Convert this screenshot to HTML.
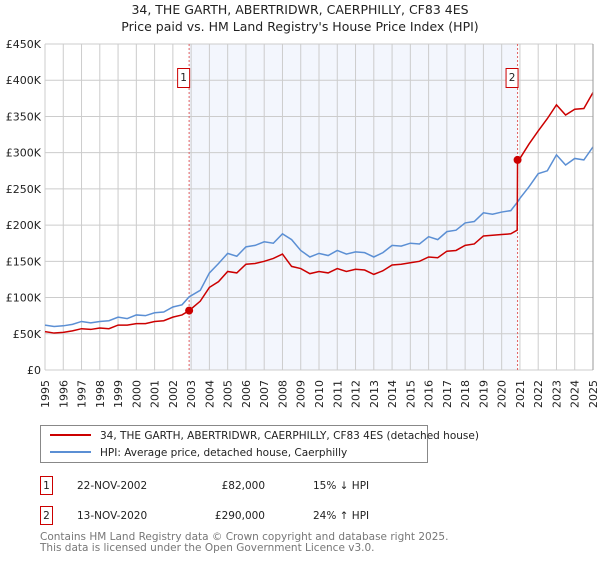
<!DOCTYPE html>
<html><head><meta charset="utf-8"><style>
body{margin:0;background:#fff;font-family:"Liberation Sans","DejaVu Sans",sans-serif;}
svg text{font-family:"DejaVu Sans","Liberation Sans",sans-serif;}
</style></head><body>
<svg id="c" width="600" height="560" xmlns="http://www.w3.org/2000/svg">
<text x="300" y="14" text-anchor="middle" font-size="12.5" fill="#222">34, THE GARTH, ABERTRIDWR, CAERPHILLY, CF83 4ES</text>
<text x="300" y="31" text-anchor="middle" font-size="12.5" fill="#222">Price paid vs. HM Land Registry's House Price Index (HPI)</text>
<g id="plot"></g>
<g>
<rect x="40.5" y="425.5" width="387" height="37" fill="#fff" stroke="#888"/>
<line x1="50" y1="435" x2="91" y2="435" stroke="#cc0000" stroke-width="2"/>
<text x="100" y="439" font-size="10.5" fill="#222">34, THE GARTH, ABERTRIDWR, CAERPHILLY, CF83 4ES (detached house)</text>
<line x1="50" y1="452" x2="91" y2="452" stroke="#5b8fd4" stroke-width="2"/>
<text x="100" y="456" font-size="10.5" fill="#222">HPI: Average price, detached house, Caerphilly</text>
</g>
<g font-size="10.5" fill="#222">
<rect x="40.5" y="476.5" width="12" height="18" fill="none" stroke="#cc0000"/>
<text x="46.5" y="489" text-anchor="middle">1</text>
<text x="77" y="489">22-NOV-2002</text><text x="265" y="489" text-anchor="end">£82,000</text><text x="313" y="489">15% ↓ HPI</text>
<rect x="40.5" y="506.5" width="12" height="18" fill="none" stroke="#cc0000"/>
<text x="46.5" y="519" text-anchor="middle">2</text>
<text x="77" y="519">13-NOV-2020</text><text x="265" y="519" text-anchor="end">£290,000</text><text x="313" y="519">24% ↑ HPI</text>
</g>
<g font-size="10.5" fill="#777">
<text x="40" y="540">Contains HM Land Registry data © Crown copyright and database right 2025.</text>
<text x="40" y="551">This data is licensed under the Open Government Licence v3.0.</text>
</g>
</svg>
<script>
const hpiYears=[1995,1995.5,1996,1996.5,1997,1997.5,1998,1998.5,1999,1999.5,2000,2000.5,2001,2001.5,2002,2002.5,2002.89,2003.5,2004,2004.5,2005,2005.5,2006,2006.5,2007,2007.5,2008,2008.5,2009,2009.5,2010,2010.5,2011,2011.5,2012,2012.5,2013,2013.5,2014,2014.5,2015,2015.5,2016,2016.5,2017,2017.5,2018,2018.5,2019,2019.5,2020,2020.5,2020.87,2021,2021.5,2022,2022.5,2023,2023.5,2024,2024.5,2025];
const hpiValues=[62,60,61,63,67,65,67,68,73,71,76,75,79,80,87,90,101,110,134,147,161,157,170,172,177,175,188,180,165,156,161,158,165,160,163,162,156,162,172,171,175,174,184,180,191,193,203,205,217,215,218,220,232,237,253,271,275,297,283,292,290,308];
const priceYears=[1995,1995.5,1996,1996.5,1997,1997.5,1998,1998.5,1999,1999.5,2000,2000.5,2001,2001.5,2002,2002.5,2002.89,2003.5,2004,2004.5,2005,2005.5,2006,2006.5,2007,2007.5,2008,2008.5,2009,2009.5,2010,2010.5,2011,2011.5,2012,2012.5,2013,2013.5,2014,2014.5,2015,2015.5,2016,2016.5,2017,2017.5,2018,2018.5,2019,2019.5,2020,2020.5,2020.85,2020.87,2021,2021.5,2022,2022.5,2023,2023.5,2024,2024.5,2025];
const priceValues=[53,51,52,54,57,56,58,57,62,62,64,64,67,68,73,76,82,95,114,122,136,134,146,147,150,154,160,143,140,133,136,134,140,136,139,138,132,137,145,146,148,150,156,155,164,165,172,174,185,186,187,188,193,290,292,312,330,347,366,352,360,361,383];
const saleYears=[2002.89,2020.87];
const saleValues=[82,290];
const saleLabels=["1","2"];
const yTicks=[0,50,100,150,200,250,300,350,400,450];
const yTickLabels=["£0","£50K","£100K","£150K","£200K","£250K","£300K","£350K","£400K","£450K"];
const xTicks=[1995,1996,1997,1998,1999,2000,2001,2002,2003,2004,2005,2006,2007,2008,2009,2010,2011,2012,2013,2014,2015,2016,2017,2018,2019,2020,2021,2022,2023,2024,2025];

const L=45,R=593,T=44,B=370,ns="http://www.w3.org/2000/svg";
const xs=v=>L+(v-1995)/30*(R-L);
const ys=v=>B-v/450*(B-T);
const g=document.getElementById('plot');
function mk(t,a,p){const e=document.createElementNS(ns,t);for(const k in a)e.setAttribute(k,a[k]);(p||g).appendChild(e);return e;}
let r=mk('rect',{x:L,y:T,width:R-L,height:B-T,fill:'#fff'});


let sh=mk('rect',{x:xs(saleYears[0]),y:T,width:xs(saleYears[1])-xs(saleYears[0]),height:B-T,fill:'#eef2fc',opacity:0.7});


xTicks.forEach(t=>{
  const l=mk('line',{x1:xs(t),x2:xs(t),y1:T,y2:B,stroke:'#ccc'});
  
  
  const tx=mk('text',{x:0,y:0,'font-size':11,fill:'#222','text-anchor':'end',transform:`translate(${xs(t)+4},${B+10}) rotate(-90)`});
  tx.textContent=t;
  
  
});
yTicks.forEach((t,i)=>{
  const l=mk('line',{x1:L,x2:R,y1:ys(t),y2:ys(t),stroke:'#ccc'});
  
  
  const tx=mk('text',{x:L-4,y:ys(t)+4,'font-size':11,fill:'#222','text-anchor':'end'});
  tx.textContent=yTickLabels[i];
  
  
});
saleYears.forEach((s,i)=>{
  const l=mk('line',{x1:xs(s),x2:xs(s),y1:T,y2:B,stroke:'#e06060','stroke-dasharray':'2,2'});
  
  
  const b=mk('rect',{x:xs(s)-11.5,y:68.5,width:12,height:19,fill:'#fff',stroke:'#cc0000'});
  
  
  const tx=mk('text',{x:xs(s)-5.5,y:81,'font-size':10.5,fill:'#222','text-anchor':'middle'});
  tx.textContent=saleLabels[i];
  
  
});
const hp=mk('polyline',{points:hpiYears.map((y,i)=>xs(y)+','+ys(hpiValues[i])).join(' '),fill:'none',stroke:'#5b8fd4','stroke-width':1.5});


const pp=mk('polyline',{points:priceYears.map((y,i)=>xs(y)+','+ys(priceValues[i])).join(' '),fill:'none',stroke:'#cc0000','stroke-width':1.5});


saleYears.forEach((s,i)=>{
  const c=mk('circle',{cx:xs(s),cy:ys(saleValues[i]),r:4,fill:'#cc0000'});
  
  
});
mk('line',{x1:R,x2:R,y1:T,y2:B,stroke:'#999'});
</script>
</body></html>
